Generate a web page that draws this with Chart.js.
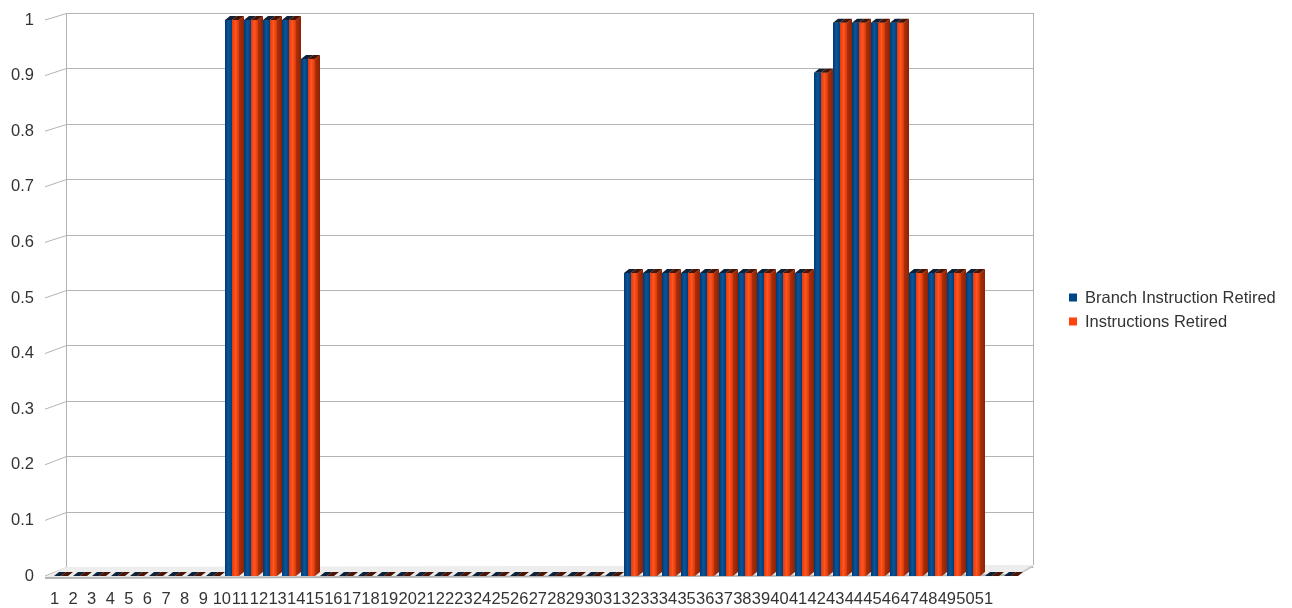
<!DOCTYPE html>
<html>
<head>
<meta charset="utf-8">
<script src="https://cdn.jsdelivr.net/npm/chart.js@4.4.1/dist/chart.umd.min.js"></script>
<style>
  html, body { margin: 0; padding: 0; background: #ffffff; }
  #wrap { width: 1292px; height: 608px; }
</style>
</head>
<body>
<div id="wrap"><canvas id="c" width="1292" height="608"></canvas></div>
<script>
// Category labels (sample index)
const categories = ['1','2','3','4','5','6','7','8','9','10','11','12','13','14','15','16','17',
  '18','19','20','21','22','23','24','25','26','27','28','29','30','31','32','33','34',
  '35','36','37','38','39','40','41','42','43','44','45','46','47','48','49','50','51'];

// Series values
const branchRetired = [0,0,0,0,0,0,0,0,0, 1,1,1,1,0.93,
  0,0,0,0,0,0,0,0,0,0,0,0,0,0,0,0,
  0.545,0.545,0.545,0.545,0.545,0.545,0.545,0.545,0.545,0.545,
  0.905, 0.995,0.995,0.995,0.995,
  0.545,0.545,0.545,0.545, 0,0];
const instructionsRetired = [0,0,0,0,0,0,0,0,0, 1,1,1,1,0.93,
  0,0,0,0,0,0,0,0,0,0,0,0,0,0,0,0,
  0.545,0.545,0.545,0.545,0.545,0.545,0.545,0.545,0.545,0.545,
  0.905, 0.995,0.995,0.995,0.995,
  0.545,0.545,0.545,0.545, 0,0];

// Value axis ticks
const yTicks = [0, 0.1, 0.2, 0.3, 0.4, 0.5, 0.6, 0.7, 0.8, 0.9, 1];
const yTickLabels = ['0','0.1','0.2','0.3','0.4','0.5','0.6','0.7','0.8','0.9','1'];

const seriesNames = ['Branch Instruction Retired', 'Instructions Retired'];
const seriesColors = ['#004586', '#ff420e'];

const FONT = '"Liberation Sans", Arial, sans-serif';
const TEXT = '#333333';

// Depth of each bar (side / top faces)
const DX = 5, DY = -4;

// Back wall, side wall and floor drawn behind the bars
const scene3d = {
  id: 'scene3d',
  beforeDatasetsDraw(chart) {
    const { ctx, scales: { y } } = chart;
    const frontL = 45, backL = 66, backR = 1033, frontR = 1017;
    const backY = v => y.getPixelForValue(v) - 9 + 2 * v;
    ctx.save();
    ctx.strokeStyle = '#b3b3b3';
    ctx.lineWidth = 1;
    yTicks.forEach(v => {
      const yb = Math.round(backY(v)) + 0.5;
      const yf = y.getPixelForValue(v);
      ctx.beginPath();
      ctx.moveTo(frontL, yf);
      ctx.lineTo(backL + 0.5, yb);
      ctx.lineTo(backR + 0.5, yb);
      ctx.stroke();
    });
    ctx.beginPath();
    ctx.moveTo(backL + 0.5, Math.round(backY(1)));
    ctx.lineTo(backL + 0.5, backY(0));
    ctx.moveTo(backR + 0.5, Math.round(backY(1)));
    ctx.lineTo(backR + 0.5, backY(0) - 2);
    ctx.stroke();

    // floor
    const f0 = y.getPixelForValue(0) + 1;
    ctx.fillStyle = '#ededed';
    ctx.beginPath();
    ctx.moveTo(frontL, f0);
    ctx.lineTo(backL, backY(0));
    ctx.lineTo(backR, backY(0) - 2);
    ctx.lineTo(frontR, f0 - 3);
    ctx.closePath();
    ctx.fill();
    ctx.fillStyle = '#b5b5b5';
    ctx.beginPath();
    ctx.moveTo(frontL, f0);
    ctx.lineTo(frontR, f0 - 3);
    ctx.lineTo(frontR, f0 - 1);
    ctx.lineTo(frontL, f0 + 2);
    ctx.closePath();
    ctx.fill();
    ctx.fillStyle = '#c8c8c8';
    ctx.beginPath();
    ctx.moveTo(frontR, f0 - 3);
    ctx.lineTo(backR, backY(0) - 2);
    ctx.lineTo(backR, backY(0));
    ctx.lineTo(frontR, f0 - 1);
    ctx.closePath();
    ctx.fill();
    ctx.restore();
  },
  afterDatasetsDraw(chart) {
    const { ctx } = chart;
    const metas = chart.data.datasets.map((d, i) => chart.getDatasetMeta(i));
    const n = chart.data.labels.length;
    const fronts = [
      ['#003a74', '#0b5597', '#003d7a'],
      ['#e53808', '#ff5520', '#d8380a']
    ];
    const tops = ['#0d2238', '#4a1405'];
    ctx.save();
    for (let i = 0; i < n; i++) {
      metas.forEach((meta, di) => {
        const bar = meta.data[i];
        const p = bar.getProps(['x', 'y', 'width', 'base'], true);
        const x0 = p.x - p.width / 2, x1 = p.x + p.width / 2;
        const top = Math.min(p.y, p.base), base = p.base;
        if (base - top > 0.5) {
          const g = ctx.createLinearGradient(x0, 0, x1, 0);
          g.addColorStop(0, fronts[di][0]);
          g.addColorStop(0.5, fronts[di][1]);
          g.addColorStop(1, fronts[di][2]);
          ctx.fillStyle = g;
          ctx.fillRect(x0, top, p.width, base - top);
        }
        if (di === metas.length - 1) {
          const sg = ctx.createLinearGradient(x1, 0, x1 + DX, 0);
          sg.addColorStop(0, '#b0300a');
          sg.addColorStop(1, '#8a2204');
          ctx.fillStyle = sg;
          ctx.beginPath();
          ctx.moveTo(x1, top);
          ctx.lineTo(x1 + DX, top + DY);
          ctx.lineTo(x1 + DX, base + DY);
          ctx.lineTo(x1, base);
          ctx.closePath();
          ctx.fill();
        }
        ctx.fillStyle = tops[di];
        ctx.beginPath();
        ctx.moveTo(x0, top);
        ctx.lineTo(x0 + DX, top + DY);
        ctx.lineTo(x1 + DX, top + DY);
        ctx.lineTo(x1, top);
        ctx.closePath();
        ctx.fill();
      });
    }
    ctx.restore();
  },
  afterDraw(chart) {
    const { ctx } = chart;
    ctx.save();
    ctx.font = '16.5px ' + FONT;
    ctx.textBaseline = 'middle';
    ctx.textAlign = 'left';
    chart.data.datasets.forEach((ds, i) => {
      const cy = 297.5 + i * 24;
      ctx.fillStyle = ds.backgroundColor;
      ctx.fillRect(1069, cy - 4, 8, 8);
      ctx.fillStyle = TEXT;
      ctx.fillText(ds.label, 1085, cy + 1);
    });
    ctx.restore();
  }
};

new Chart(document.getElementById('c'), {
  type: 'bar',
  data: {
    labels: categories,
    datasets: [
      { label: seriesNames[0], data: branchRetired, backgroundColor: seriesColors[0] },
      { label: seriesNames[1], data: instructionsRetired, backgroundColor: seriesColors[1] }
    ]
  },
  options: {
    responsive: false,
    animation: false,
    devicePixelRatio: 1,
    layout: { padding: { left: 0, right: 271.5, top: 20, bottom: 0 } },
    datasets: { bar: { categoryPercentage: 14 / 19, barPercentage: 1, borderWidth: 0 } },
    plugins: { legend: { display: false }, tooltip: { enabled: false } },
    scales: {
      x: { type: 'category', display: false, offset: true },
      y: {
        min: 0, max: 1,
        position: 'left',
        afterFit: s => { s.width = 51.5; },
        afterBuildTicks: s => { s.ticks = yTicks.map(v => ({ value: v })); },
        grid: { display: false, drawTicks: true, tickLength: 17.5 },
        border: { display: false },
        ticks: {
          padding: 0,
          color: TEXT,
          font: { family: FONT, size: 16.5 },
          callback: (v, i) => yTickLabels[i]
        }
      },
      xl: {
        type: 'linear',
        position: 'bottom',
        offset: false,
        bounds: 'data',
        min: 0.83862, max: 52.96362,
        afterFit: s => { s.height = 32; },
        afterBuildTicks: s => { s.ticks = categories.map((c, i) => ({ value: i + 1 })); },
        grid: { display: false, drawTicks: false, offset: false },
        border: { display: false },
        ticks: {
          padding: 14,
          autoSkip: false,
          maxRotation: 0,
          minRotation: 0,
          color: TEXT,
          font: { family: FONT, size: 16.5 },
          callback: (v, i) => categories[i]
        }
      }
    }
  },
  plugins: [scene3d]
});
</script>
</body>
</html>
